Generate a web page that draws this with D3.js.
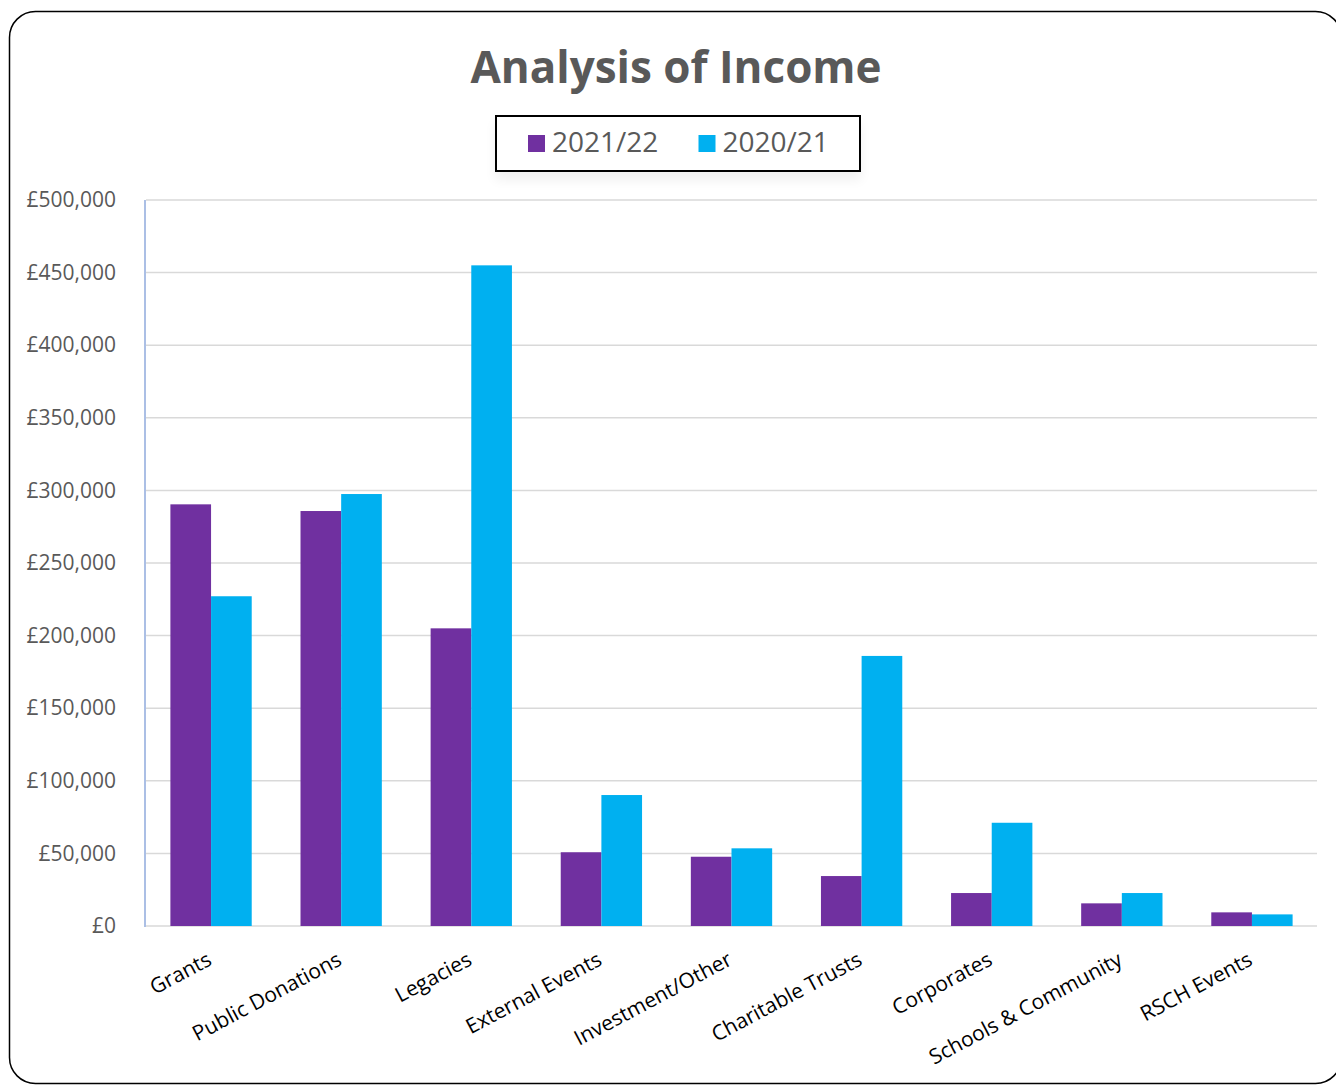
<!DOCTYPE html>
<html>
<head>
<meta charset="utf-8">
<script src="https://cdn.jsdelivr.net/npm/d3@7"></script>
<style>
  html, body { margin: 0; padding: 0; background: #ffffff; }
  svg { display: block; }
</style>
</head>
<body>
<svg id="chart" width="1336" height="1085"></svg>
<script>
const chartTitle = "Analysis of Income";
const categories = ["Grants", "Public Donations", "Legacies", "External Events", "Investment/Other", "Charitable Trusts", "Corporates", "Schools & Community", "RSCH Events"];
const seriesNames = ["2021/22", "2020/21"];
const values2122 = [290400, 285800, 205000, 50800, 47700, 34400, 22700, 15600, 9400];
const values2021 = [227100, 297500, 455000, 90200, 53500, 186000, 71100, 22700, 8000];
const yTickValues = [0, 50000, 100000, 150000, 200000, 250000, 300000, 350000, 400000, 450000, 500000];
const seriesColors = ["#7030A0", "#00B0F0"];

const svg = d3.select("#chart");
const plot = { left: 146, right: 1317, top: 200, bottom: 926 };

// shadow filter for legend
const defs = svg.append("defs");
const f = defs.append("filter").attr("id", "lshadow").attr("x", "-10%").attr("y", "-10%").attr("width", "120%").attr("height", "160%");
f.append("feGaussianBlur").attr("in", "SourceAlpha").attr("stdDeviation", 6).attr("result", "b");
f.append("feOffset").attr("in", "b").attr("dy", 8).attr("result", "o");
f.append("feComponentTransfer").attr("in", "o").attr("result", "t")
  .append("feFuncA").attr("type", "linear").attr("slope", 0.06);
const fm = f.append("feMerge");
fm.append("feMergeNode").attr("in", "t");
fm.append("feMergeNode").attr("in", "SourceGraphic");

// outer rounded border
svg.append("rect")
  .attr("x", 9.5).attr("y", 11.5)
  .attr("width", 1332).attr("height", 1072)
  .attr("rx", 26).attr("ry", 26)
  .attr("fill", "#ffffff").attr("stroke", "#000000").attr("stroke-width", 1.5);

// title
svg.append("text")
  .attr("x", 676).attr("y", 83)
  .attr("text-anchor", "middle")
  .attr("font-family", "'Open Sans', sans-serif")
  .attr("font-weight", "bold")
  .attr("font-size", 44)
  .attr("fill", "#595959")
  .text(chartTitle);

// scales
const x0 = d3.scaleBand().domain(categories).range([plot.left, plot.right]).padding(0);
const x1 = d3.scaleBand().domain(seriesNames).range([0, x0.bandwidth()]).paddingInner(0).paddingOuter(0.6);
const y = d3.scaleLinear().domain([0, 500000]).range([plot.bottom, plot.top]);

// gridlines
svg.append("g").selectAll("line").data(yTickValues).join("line")
  .attr("x1", plot.left).attr("x2", plot.right)
  .attr("y1", d => y(d)).attr("y2", d => y(d))
  .attr("stroke", "#d9d9d9").attr("stroke-width", 1.5);

// y axis labels
const yAxis = d3.axisLeft(y).tickValues(yTickValues).tickSize(0).tickPadding(0)
  .tickFormat(d => "£" + d3.format(",")(d));
const yg = svg.append("g").attr("transform", `translate(116,0)`).call(yAxis);
yg.select(".domain").remove();
yg.selectAll("text")
  .attr("font-family", "'Open Sans', sans-serif")
  .attr("font-size", 21)
  .attr("fill", "#595959");

// left axis line
svg.append("line")
  .attr("x1", 145).attr("x2", 145)
  .attr("y1", plot.top).attr("y2", plot.bottom + 1)
  .attr("stroke", "#8faadc").attr("stroke-width", 1.5);

// bars
const rows = categories.map((c, i) => ({ cat: c, vals: [values2122[i], values2021[i]] }));
const groups = svg.append("g").selectAll("g").data(rows).join("g")
  .attr("transform", d => `translate(${x0(d.cat)},0)`);
groups.selectAll("rect").data(d => d.vals.map((v, j) => ({ s: seriesNames[j], v, j }))).join("rect")
  .attr("x", d => x1(d.s))
  .attr("width", x1.bandwidth())
  .attr("y", d => y(d.v))
  .attr("height", d => y(0) - y(d.v))
  .attr("fill", d => seriesColors[d.j]);

// x axis labels
const xAxis = d3.axisBottom(x0).tickSize(0).tickPadding(0);
const xg = svg.append("g").attr("transform", `translate(0,${plot.bottom})`).call(xAxis);
xg.select(".domain").remove();
xg.selectAll("text")
  .attr("font-family", "'Open Sans', sans-serif")
  .attr("font-size", 21)
  .attr("fill", "#000000")
  .attr("text-anchor", "end")
  .attr("dy", 0)
  .attr("y", 0)
  .attr("transform", "translate(2,38) rotate(-28)");

// legend
const lg = svg.append("g");
lg.append("rect")
  .attr("x", 496).attr("y", 116).attr("width", 364).attr("height", 55)
  .attr("fill", "#ffffff").attr("stroke", "#000000").attr("stroke-width", 2)
  .attr("filter", "url(#lshadow)");
const legendX = [528, 698.5];
seriesNames.forEach((s, i) => {
  lg.append("rect").attr("x", legendX[i]).attr("y", 135).attr("width", 17).attr("height", 17).attr("fill", seriesColors[i]);
  lg.append("text").attr("x", legendX[i] + 24).attr("y", 152)
    .attr("font-family", "'Open Sans', sans-serif").attr("font-size", 28)
    .attr("fill", "#595959").text(s);
});
</script>
</body>
</html>
